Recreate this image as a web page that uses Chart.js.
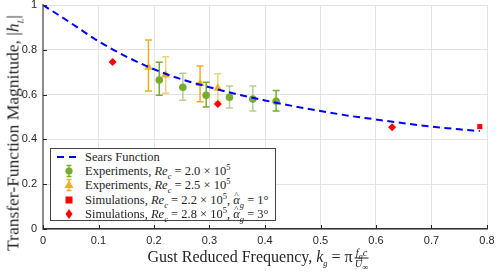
<!DOCTYPE html>
<html>
<head>
<meta charset="utf-8">
<script src="https://cdn.jsdelivr.net/npm/chart.js@4.4.1/dist/chart.umd.min.js"></script>
<style>
  html, body { margin: 0; padding: 0; background: #fff; }
  #wrap { position: relative; width: 498px; height: 274px; }
  .serif { font-family: "Liberation Serif", "DejaVu Serif", serif; color: #262626; }
  #ytitle { position: absolute; left: 13px; top: 133px; width: max-content; transform: translate(-50%, -50%) rotate(-90deg);
            white-space: nowrap; font-size: 17.5px; }
  #xtitle { position: absolute; left: 258px; top: 258px; width: max-content; transform: translate(-50%, -50%);
            white-space: nowrap; font-size: 16px; }
  .frac { display: inline-block; vertical-align: middle; text-align: center; font-size: 10.5px; line-height: 10px; margin-left: 2px; }
  .frac span { display: block; }
  .frac .num { border-bottom: 0.8px solid #262626; padding: 0 1px; }
  #legend { position: absolute; left: 50px; top: 148px; width: 224px; height: 71px;
            border: 1.3px solid #444; background: #fff; font-size: 12.5px; }
  .row { position: absolute; left: 0; height: 14px; line-height: 14px; white-space: nowrap; }
  .row svg { position: absolute; left: 6px; top: 0; }
  .row .txt { position: absolute; left: 34px; top: 0; }
  sub, sup { font-size: 8.5px; line-height: 0; }
  .hat { position: relative; display: inline-block; }
  .hat::before { content: "^"; position: absolute; left: 1px; top: -5px; font-style: normal; font-size: 9px; }
</style>
</head>
<body>
<div id="wrap">
  <canvas id="graphique" width="498" height="274"></canvas>
  <div id="ytitle" class="serif">Transfer-Function Magnitude, |<i>h<sub>L</sub></i>|</div>
  <div id="xtitle" class="serif">Gust Reduced Frequency, <i>k<sub>g</sub></i> = π<span class="frac"><span class="num"><i>f<sub>g</sub>c</i></span><span><i>U</i><sub>∞</sub></span></span></div>
  <div id="legend" class="serif"></div>
</div>
<script>
// Sears function curve
const searsX = [0, 0.05, 0.1, 0.15, 0.2, 0.25, 0.3, 0.35, 0.4, 0.45, 0.5, 0.55, 0.6, 0.65, 0.7, 0.75, 0.787];
const searsY = [1.0, 0.92, 0.838, 0.77, 0.713, 0.668, 0.633, 0.601, 0.574, 0.549, 0.527, 0.506, 0.489, 0.472, 0.457, 0.445, 0.437];

// Experiments, Re_c = 2.0e5
const expAX = [0.2095, 0.252, 0.294, 0.336, 0.378, 0.420];
const expAY = [0.665, 0.633, 0.597, 0.588, 0.580, 0.570];
const expALo = [0.597, 0.575, 0.545, 0.540, 0.527, 0.527];
const expAHi = [0.744, 0.695, 0.655, 0.638, 0.638, 0.618];

// Experiments, Re_c = 2.5e5
const expBX = [0.190, 0.221, 0.283, 0.315];
const expBY = [0.722, 0.688, 0.650, 0.628];
const expBLo = [0.616, 0.606, 0.568, 0.568];
const expBHi = [0.844, 0.769, 0.728, 0.693];

// Simulations
const simAX = [0.787];
const simAY = [0.457];
const simBX = [0.1255, 0.315, 0.629];
const simBY = [0.745, 0.558, 0.454];

const xTicks = [0, 0.1, 0.2, 0.3, 0.4, 0.5, 0.6, 0.7, 0.8];
const yTicks = [0, 0.2, 0.4, 0.6, 0.8, 1];

const legendLabels = [
    'Sears Function',
    'Experiments, <i>Re<sub>c</sub></i> = 2.0 × 10<sup>5</sup>',
    'Experiments, <i>Re<sub>c</sub></i> = 2.5 × 10<sup>5</sup>',
    'Simulations, <i>Re<sub>c</sub></i> = 2.2 × 10<sup>5</sup>, <i><span class="hat">α</span><sub>g</sub></i> = 1°',
    'Simulations, <i>Re<sub>c</sub></i> = 2.8 × 10<sup>5</sup>, <i><span class="hat">α</span><sub>g</sub></i> = 3°'
];

const GREEN = '#77AC30';
const YELLOW = '#EDB120';
const RED = '#FF0000';
const BLUE = '#0000FF';

function points(xs, ys) {
    return xs.map((x, i) => ({ x: x, y: ys[i] }));
}

// error bars, drawn under the markers
const barresErreur = {
    id: 'barresErreur',
    beforeDatasetsDraw(chart) {
        const ctx = chart.ctx;
        const sx = chart.scales.x, sy = chart.scales.y;
        const groupes = [
            { xs: expAX, lo: expALo, hi: expAHi, c: '119,172,48', a: [1, 0.55, 1, 0.55, 0.55, 1] },
            { xs: expBX, lo: expBLo, hi: expBHi, c: '237,177,32', a: [1, 0.6, 1, 0.6] }
        ];
        ctx.save();
        ctx.lineWidth = 1.5;
        groupes.forEach(g => {
            g.xs.forEach((x, i) => {
                const px = sx.getPixelForValue(x);
                const p1 = sy.getPixelForValue(g.lo[i]);
                const p2 = sy.getPixelForValue(g.hi[i]);
                ctx.strokeStyle = 'rgba(' + g.c + ',' + g.a[i] + ')';
                ctx.beginPath();
                ctx.moveTo(px, p1); ctx.lineTo(px, p2);
                ctx.moveTo(px - 3.5, p1); ctx.lineTo(px + 3.5, p1);
                ctx.moveTo(px - 3.5, p2); ctx.lineTo(px + 3.5, p2);
                ctx.stroke();
            });
        });
        ctx.restore();
    },
    afterDraw(chart) {
        // small inward tick marks
        const ctx = chart.ctx;
        const sx = chart.scales.x, sy = chart.scales.y;
        const a = chart.chartArea;
        ctx.save();
        ctx.strokeStyle = '#262626';
        ctx.lineWidth = 1;
        ctx.beginPath();
        xTicks.forEach(t => {
            const px = Math.round(sx.getPixelForValue(t)) + 0.5;
            ctx.moveTo(px, a.bottom); ctx.lineTo(px, a.bottom - 4);
        });
        yTicks.forEach(t => {
            const py = Math.round(sy.getPixelForValue(t)) + 0.5;
            ctx.moveTo(a.left, py); ctx.lineTo(a.left + 4, py);
        });
        ctx.stroke();
        ctx.restore();
    }
};

const canvas = document.getElementById('graphique');
new Chart(canvas.getContext('2d'), {
    type: 'scatter',
    data: {
        datasets: [
            {
                label: 'Sears Function',
                data: points(searsX, searsY),
                showLine: true,
                borderColor: BLUE,
                borderWidth: 2,
                borderDash: [7, 4.5],
                pointRadius: 0,
                cubicInterpolationMode: 'monotone',
                order: 1
            },
            {
                label: 'Experiments 2.0',
                data: points(expAX, expAY),
                pointStyle: 'circle',
                pointRadius: 3.8,
                backgroundColor: GREEN,
                borderColor: GREEN,
                borderWidth: 0,
                order: 2
            },
            {
                label: 'Experiments 2.5',
                data: points(expBX, expBY),
                pointStyle: 'triangle',
                pointRadius: 5,
                backgroundColor: YELLOW,
                borderColor: YELLOW,
                borderWidth: 0,
                order: 2
            },
            {
                label: 'Simulations 2.2',
                data: points(simAX, simAY),
                pointStyle: 'rect',
                pointRadius: 3.6,
                backgroundColor: RED,
                borderColor: RED,
                borderWidth: 0,
                order: 2
            },
            {
                label: 'Simulations 2.8',
                data: points(simBX, simBY),
                pointStyle: 'rectRot',
                pointRadius: 4,
                backgroundColor: RED,
                borderColor: RED,
                borderWidth: 0,
                order: 2
            }
        ]
    },
    options: {
        responsive: false,
        animation: false,
        layout: { padding: { top: 5, right: 11, left: 0, bottom: 0 } },
        plugins: { legend: { display: false }, tooltip: { enabled: false } },
        scales: {
            x: {
                type: 'linear',
                min: 0, max: 0.8,
                afterBuildTicks: s => { s.ticks = xTicks.map(v => ({ value: v })); },
                afterFit: s => { s.height = 45; s.paddingLeft = 0; s.paddingRight = 0; },
                grid: { color: '#e3e3e3', lineWidth: 1, drawTicks: false },
                border: { color: '#333', width: 1.5 },
                ticks: { color: '#262626', padding: 5, font: { family: 'Liberation Sans', size: 11 },
                         callback: v => String(v) }
            },
            y: {
                type: 'linear',
                min: 0, max: 1,
                afterBuildTicks: s => { s.ticks = yTicks.map(v => ({ value: v })); },
                afterFit: s => { s.width = 43; s.paddingTop = 0; s.paddingBottom = 0; },
                grid: { color: '#e3e3e3', lineWidth: 1, drawTicks: false },
                border: { color: '#8c8c8c', width: 2 },
                ticks: { color: '#262626', padding: 6, font: { family: 'Liberation Sans', size: 11 },
                         callback: v => String(v) }
            }
        }
    },
    plugins: [barresErreur]
});

// legend built from the labels
const symboles = [
    '<svg width="26" height="14"><line x1="0" y1="7" x2="24" y2="7" stroke="' + BLUE + '" stroke-width="2" stroke-dasharray="7,5"/></svg>',
    '<svg width="26" height="14"><path d="M12 1.5V12.5M9.5 1.5H14.5M9.5 12.5H14.5" stroke="' + GREEN + '" stroke-width="1.3" fill="none"/><circle cx="12" cy="7" r="3.6" fill="' + GREEN + '"/></svg>',
    '<svg width="26" height="14"><path d="M12 1.5V12.5M9.5 1.5H14.5M9.5 12.5H14.5" stroke="' + YELLOW + '" stroke-width="1.3" fill="none"/><path d="M12 2.5L16.5 10H7.5Z" fill="' + YELLOW + '"/></svg>',
    '<svg width="26" height="14"><rect x="8.5" y="3.5" width="7" height="7" fill="' + RED + '"/></svg>',
    '<svg width="26" height="14"><path d="M12 2L15.5 7L12 12L8.5 7Z" fill="' + RED + '"/></svg>'
];
const legende = document.getElementById('legend');
legendLabels.forEach((lab, i) => {
    const row = document.createElement('div');
    row.className = 'row';
    row.style.top = (1 + i * 14.2) + 'px';
    row.innerHTML = symboles[i] + '<span class="txt">' + lab + '</span>';
    legende.appendChild(row);
});
</script>
</body>
</html>
